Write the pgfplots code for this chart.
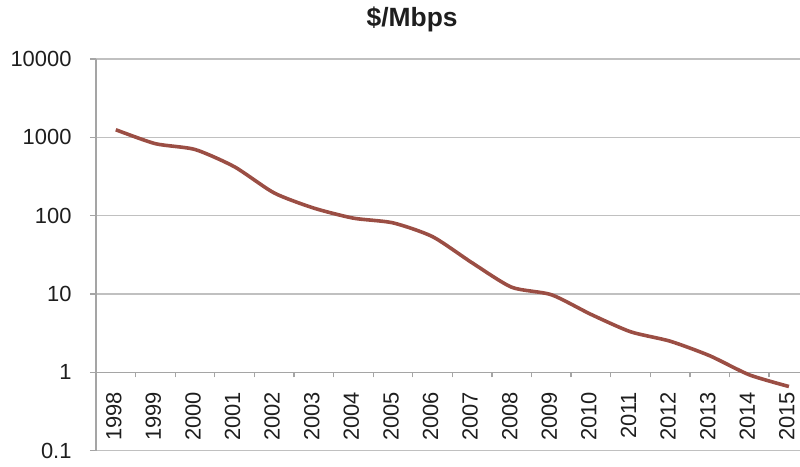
\documentclass[border=0pt]{standalone}
\usepackage{pgfplots}
\pgfplotsset{compat=1.18}
\usepackage{fontspec}
\setmainfont{Liberation Sans}
\definecolor{linec}{RGB}{155,78,68}
\definecolor{gridc}{RGB}{192,192,192}
\definecolor{axisc}{RGB}{165,165,165}
\definecolor{textc}{RGB}{30,30,30}
\begin{document}
\begin{tikzpicture}
\begin{axis}[
  scale only axis, width=704bp, height=391.7bp,
  ymode=log, ymin=0.1, ymax=10000,
  xmin=-0.5, xmax=17.28,
  axis x line=middle, axis y line=left,
  axis line style={-, draw=axisc, line width=1.3bp},
  ymajorgrids, grid style={draw=gridc, line width=1.3bp},
  yminorticks=false,
  ytick={0.1,1,10,100,1000,10000},
  yticklabels={0.1,1,10,100,1000,10000},
  xtick={0,...,17},
  xticklabels={1998,1999,2000,2001,2002,2003,2004,2005,2006,2007,2008,2009,2010,2011,2012,2013,2014,2015},
  minor xtick={-0.5,0.5,...,16.5},
  tick align=outside,
  major x tick style={draw=none},
  minor x tick style={draw=axisc, line width=1.3bp},
  y tick style={draw=axisc, line width=1.3bp},
  major tick length=6bp, minor tick length=5bp,
  x tick label style={rotate=90, anchor=east, font=\fontsize{22}{22}\selectfont, text=textc, xshift=-10bp, yshift=2bp},
  y tick label style={font=\fontsize{22}{22}\selectfont, text=textc, xshift=-15bp},
  title={\textbf{\$/Mbps}},
  title style={at={(0.449,1)}, anchor=base, yshift=27bp, font=\fontsize{26.5}{26.5}\selectfont, text=textc},
]
\addplot[linec, line width=3.6bp, smooth, tension=0.4, mark=none] coordinates {
(0,1250) (1,830) (2,700) (3,420) (4,195) (5,125) (6,93) (7,81) (8,54) (9,25)
(10,12.2) (11,9.8) (12,5.5) (13,3.3) (14,2.5) (15,1.63) (16,0.93) (17,0.66)
};
\end{axis}
\pgfresetboundingbox
\path ([shift={(-96bp,-16.3bp)}]current axis.south west) rectangle ([shift={(0bp,59bp)}]current axis.north east);
\end{tikzpicture}
\end{document}
